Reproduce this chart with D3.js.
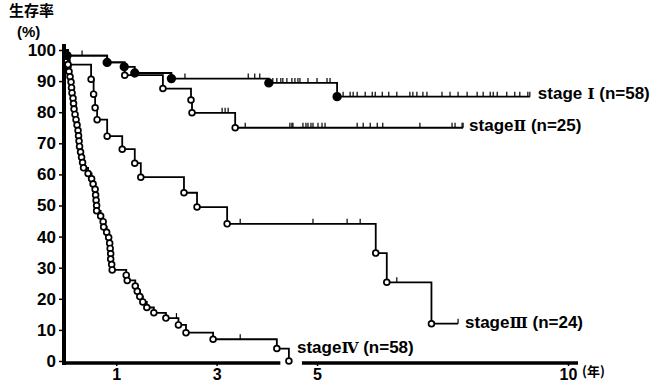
<!DOCTYPE html>
<head>
  <meta charset="utf-8">
  <style>
    body { margin: 0; background: #fff; }
    svg text {
      font-family: "Liberation Sans", Arial, sans-serif;
      font-weight: bold;
      fill: #000;
    }
    svg .km { fill: none; stroke: #000; stroke-width: 1.8px; }
    svg .cens { stroke: #000; stroke-width: 1.2px; }
    svg .tick line { stroke: #000; stroke-width: 1.5px; }
    svg .domain { display: none; }
    svg .axisline { stroke: #000; }
    svg .jp { font-family: "Noto Sans CJK JP", sans-serif; }
  </style>
</head>

<body>
<script src="https://d3js.org/d3.v7.min.js"></script>

<script>
  // tick labels
  var yTicks = [0, 10, 20, 30, 40, 50, 60, 70, 80, 90, 100];
  var xTicks = [1, 3, 5, 10];

  // stage I (n=58) : death times (yr) and survival (%) after each death
  var stage1Time = [0.02, 0.82, 1.16, 1.37, 2.10, 4.04, 5.40];
  var stage1Surv = [98.2, 96.0, 94.6, 92.6, 90.8, 89.4, 85.0];
  var stage1End = 9.24;
  var stage1Cens = [0.32, 2.37, 3.63, 3.76, 3.86, 4.12, 4.20, 4.28, 4.32, 4.40, 4.50, 4.56,
                    4.62, 4.66, 4.82, 5.00, 5.20, 5.26, 5.52, 5.66, 5.72, 5.80, 5.96, 6.10,
                    6.16, 6.30, 6.43, 6.59, 6.85, 6.91, 6.99, 7.11, 7.19, 7.49, 7.65, 7.81,
                    7.99, 8.19, 8.31, 8.45, 8.51, 8.59, 8.78, 8.94, 9.04, 9.20, 9.24];

  // stage II (n=25)
  var stage2Time = [0.03, 0.82, 1.17, 1.93, 2.49, 2.51, 3.37];
  var stage2Surv = [98.2, 96.0, 91.9, 87.6, 83.9, 79.8, 75.0];
  var stage2End = 7.91;
  var stage2Cens = [3.11, 3.17, 3.23, 3.57, 4.46, 4.50, 4.52, 4.72, 4.78, 4.82, 4.88, 4.92,
                    5.02, 5.10, 5.16, 5.80, 5.92, 6.06, 6.20, 6.31, 7.05, 7.69, 7.75, 7.89, 7.91];

  // stage III (n=24)
  var stage3Time = [0.04, 0.50, 0.55, 0.58, 0.62, 0.82, 1.12, 1.37, 1.49, 2.35, 2.61, 3.21,
                    6.17, 6.39, 7.28];
  var stage3Surv = [95.3, 90.6, 85.8, 81.4, 77.6, 72.3, 68.1, 63.6, 59.1, 54.1, 49.5, 44.1,
                    34.7, 25.3, 12.0];
  var stage3End = 7.81;
  var stage3Cens = [3.47, 4.92, 5.60, 5.86, 6.59, 7.81];

  // stage IV (n=58)
  var stage4Time = [0.01, 0.02, 0.04, 0.06, 0.08, 0.10, 0.11, 0.12, 0.14, 0.15, 0.16, 0.18,
                    0.20, 0.22, 0.24, 0.25, 0.26, 0.27, 0.29, 0.31, 0.33, 0.35,
                    0.44, 0.51, 0.54, 0.58, 0.59, 0.60, 0.61, 0.61, 0.69, 0.74, 0.75, 0.81,
                    0.85, 0.87, 0.88, 0.89, 0.89, 0.91, 0.92,
                    1.20, 1.22, 1.38, 1.42, 1.47, 1.53, 1.61, 1.75, 1.99, 2.24, 2.39, 2.93,
                    4.20, 4.44];
  var stage4Surv = [98.3, 96.6, 94.8, 93.1, 91.4, 89.7, 87.9, 86.2, 84.5, 82.8, 81.0, 79.3,
                    77.6, 75.9, 74.1, 72.4, 70.7, 69.0, 67.2, 65.5, 63.8, 62.1,
                    60.3, 58.6, 56.9, 55.2, 53.4, 51.7, 50.0, 48.3, 46.6, 44.8, 43.1, 41.4,
                    39.7, 37.9, 36.2, 34.5, 32.8, 31.0, 29.3,
                    27.6, 25.9, 24.1, 22.4, 20.7, 19.0, 17.2, 15.5, 13.8, 11.6, 9.1, 7.0,
                    4.0, 0];
  var stage4End = 4.44;
  var stage4Cens = [2.20, 3.47];

  var xBreak = [4.27, 4.70];   // gap in the time axis

  var width = 655, height = 386;

  var svg = d3.select("body")
    .append("svg")
      .attr("width", width)
      .attr("height", height);

  var xScale = d3.scaleLinear().domain([0, 10]).range([66, 568]);
  var yScale = d3.scaleLinear().domain([0, 100]).range([361, 50]);

  // y axis
  var yAxis = d3.axisLeft(yScale)
    .tickValues(yTicks)
    .tickSize(5)
    .tickPadding(3);

  svg.append("g")
      .attr("transform", "translate(64,0)")
      .call(yAxis)
    .selectAll("text")
      .style("font-size", "17px");

  svg.append("line")
      .classed("axisline", true)
      .attr("x1", 64).attr("y1", 44)
      .attr("x2", 64).attr("y2", 365)
      .style("stroke-width", "4px");

  // x axis
  var xAxis = d3.axisBottom(xScale)
    .tickValues(xTicks)
    .tickSize(3)
    .tickPadding(3);

  svg.append("g")
      .attr("transform", "translate(0,363)")
      .call(xAxis)
    .selectAll("text")
      .style("font-size", "16px");

  svg.append("line")
      .classed("axisline", true)
      .attr("x1", 62).attr("y1", 363)
      .attr("x2", xScale(xBreak[0])).attr("y2", 363)
      .style("stroke-width", "3.5px");

  svg.append("line")
      .classed("axisline", true)
      .attr("x1", xScale(xBreak[1])).attr("y1", 363)
      .attr("x2", 578).attr("y2", 363)
      .style("stroke-width", "3.5px");

  // axis titles
  svg.append("text")
      .classed("jp", true)
      .attr("x", 9).attr("y", 16)
      .style("font-size", "15px")
      .text("生存率");

  svg.append("text")
      .attr("x", 17).attr("y", 37)
      .style("font-size", "15px")
      .text("(%)");

  svg.append("text")
      .classed("jp", true)
      .attr("x", 582).attr("y", 376)
      .style("font-size", "13px")
      .text("(年)");

  // Kaplan-Meier curves
  var kmLine = d3.line()
    .x(function (d) { return xScale(d[0]); })
    .y(function (d) { return yScale(d[1]); })
    .curve(d3.curveStepAfter);

  function survAt(times, survs, t) {
    var s = 100;
    for (var i = 0; i < times.length; i++) {
      if (times[i] <= t) s = survs[i];
    }
    return s;
  }

  function drawStage(times, survs, endT, cens, filled) {
    var pts = [[0, 100]];
    times.forEach(function (t, i) { pts.push([t, survs[i]]); });
    pts.push([endT, survs[survs.length - 1]]);

    svg.append("path")
        .classed("km", true)
        .attr("d", kmLine(pts));

    svg.selectAll(null)
      .data(cens)
      .enter().append("line")
        .classed("cens", true)
        .attr("x1", function (d) { return xScale(d); })
        .attr("x2", function (d) { return xScale(d); })
        .attr("y1", function (d) { return yScale(survAt(times, survs, d)); })
        .attr("y2", function (d) { return yScale(survAt(times, survs, d)) - 5; });

    svg.selectAll(null)
      .data(times.map(function (t, i) { return [t, survs[i]]; }))
      .enter().append("circle")
        .attr("cx", function (d) { return xScale(d[0]); })
        .attr("cy", function (d) { return yScale(d[1]); })
        .attr("r", filled ? 3.8 : 2.9)
        .style("fill", filled ? "#000" : "#fff")
        .style("stroke", "#000")
        .style("stroke-width", "1.7px");
  }

  drawStage(stage4Time, stage4Surv, stage4End, stage4Cens, false);
  drawStage(stage3Time, stage3Surv, stage3End, stage3Cens, false);
  drawStage(stage2Time, stage2Surv, stage2End, stage2Cens, false);
  drawStage(stage1Time, stage1Surv, stage1End, stage1Cens, true);

  // curve labels
  function label(x, y, numeral, n) {
    var t = svg.append("text")
        .attr("x", x).attr("y", y)
        .style("font-size", "17px");
    t.append("tspan").text("stage");
    t.append("tspan")
        .style("font-family", "'DejaVu Serif', serif")
        .style("font-size", "15px")
        .text(numeral);
    t.append("tspan").text(" (n=" + n + ")");
  }

  label(xScale(stage1End) + 8, yScale(85.0) + 2, " Ⅰ", 58);
  label(xScale(stage2End) + 6, yScale(75.0) + 3, "Ⅱ", 25);
  label(xScale(stage3End) + 7, yScale(12.0) + 4, "Ⅲ", 24);
  label(297, 353, "Ⅳ", 58);
</script>
</body>
</html>
